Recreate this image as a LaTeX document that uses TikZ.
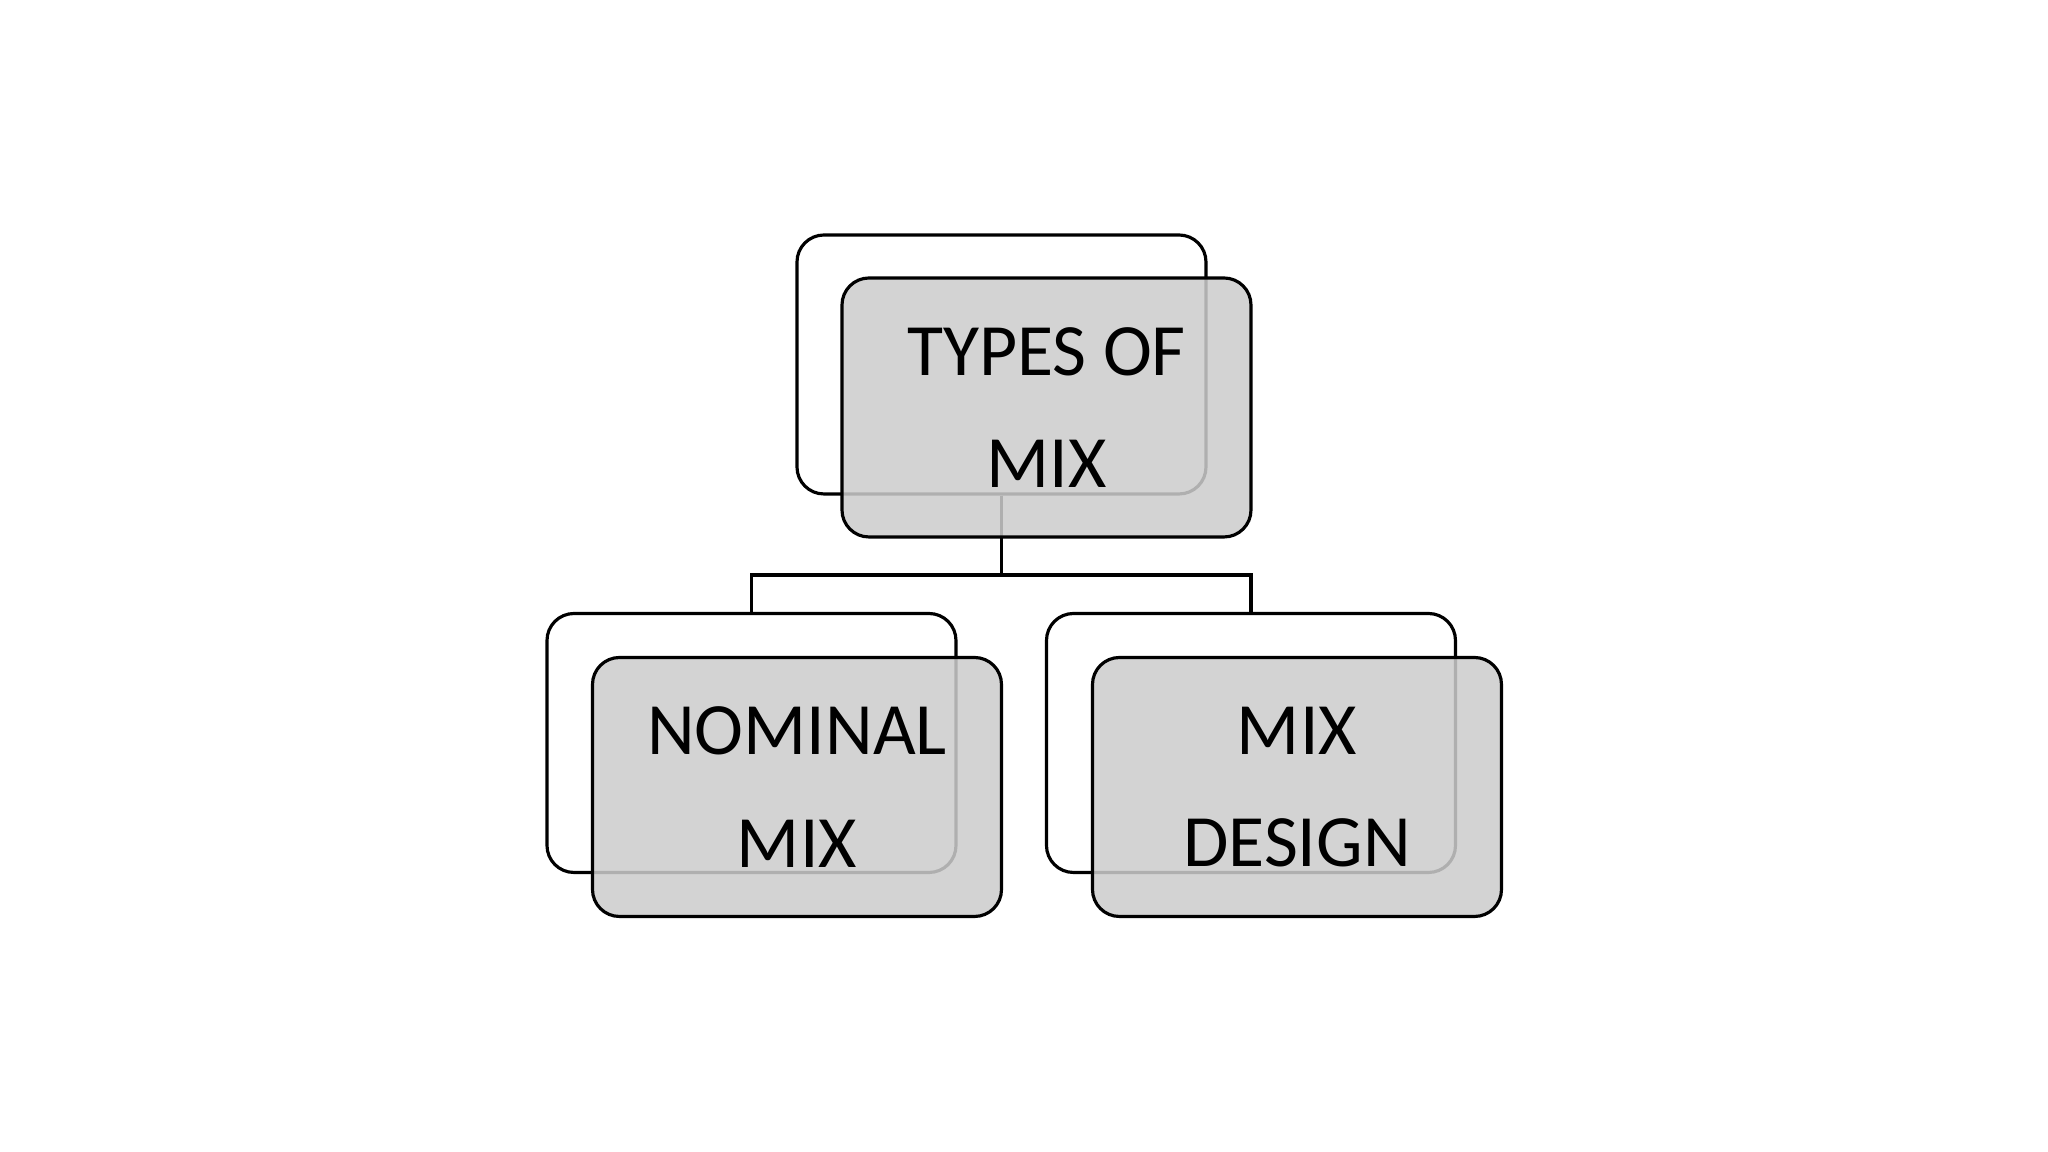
\documentclass[tikz,border=0pt]{standalone}
\usepackage{fontspec}
\setmainfont{Carlito}
\usepackage{tikz}
\pgfdeclarelayer{edgelayer}
\pgfdeclarelayer{nodelayer}
\pgfsetlayers{edgelayer,nodelayer,main}
\tikzstyle{back_box}=[draw=black,line width=0.9pt,rounded corners=2.7mm,minimum width=4.09cm,minimum height=2.59cm,inner sep=0pt]
\tikzstyle{front_box}=[back_box,fill=black!20,fill opacity=0.86,text opacity=1,align=center,font={\fontsize{21}{32}\selectfont}]
\tikzstyle{branch}=[draw=black,line width=0.9pt]

\begin{document}
\begin{tikzpicture}
	\useasboundingbox (0, 0) rectangle (20.48, 11.52);
	\begin{pgfonlayer}{edgelayer}
		\node [style={back_box}] (0) at (10.015, 7.875) {};
		\node [style={back_box}] (1) at (7.515, 4.09) {};
		\node [style={back_box}] (2) at (12.51, 4.09) {};
		\coordinate (fork) at (10.015, 5.77);
		\draw [style=branch] (0.south) -- (fork);
		\draw [style=branch] (fork) -| (1.north);
		\draw [style=branch] (fork) -| (2.north);
	\end{pgfonlayer}
	\begin{pgfonlayer}{nodelayer}
		\node [style={front_box}] (3) at (10.465, 7.445) {TYPES OF\\MIX};
		\node [style={front_box}] (4) at (7.97, 3.65) {NOMINAL\\MIX};
		\node [style={front_box}] (5) at (12.97, 3.65) {MIX\\DESIGN};
	\end{pgfonlayer}
\end{tikzpicture}
\end{document}
